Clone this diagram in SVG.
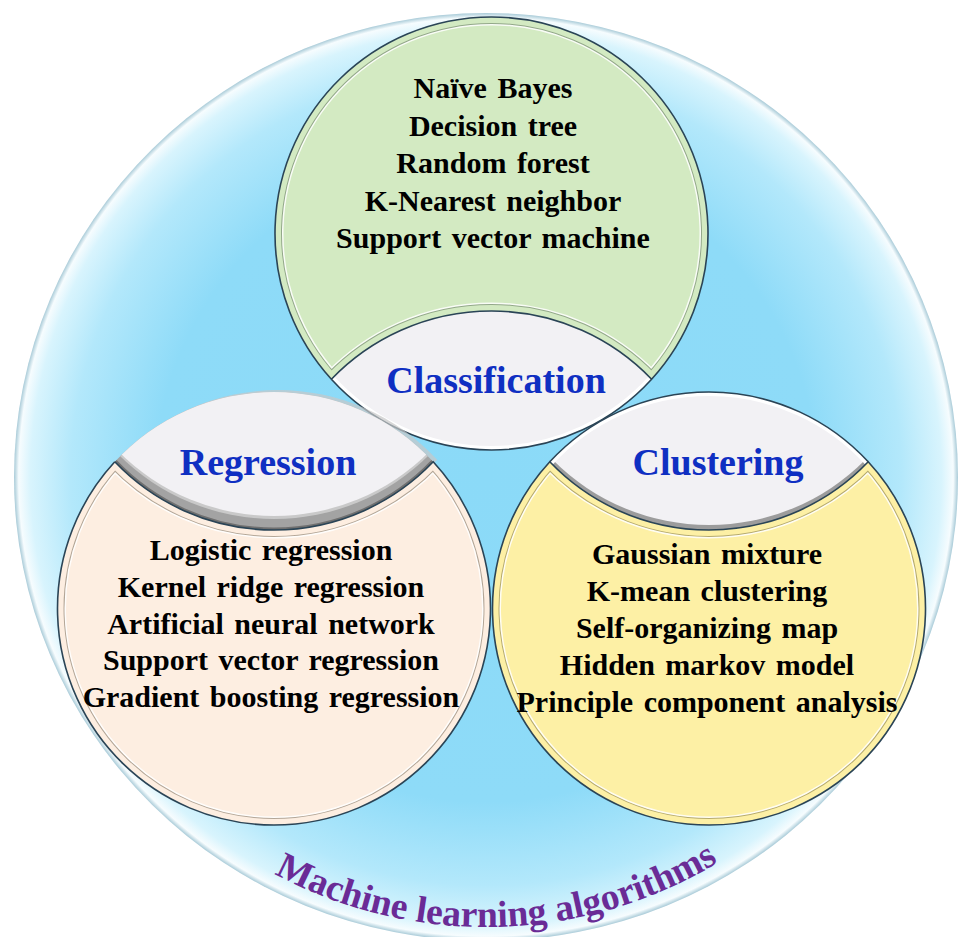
<svg xmlns="http://www.w3.org/2000/svg" width="961" height="937" viewBox="0 0 961 937">
  <style>
    .item { font-family: "Liberation Serif", "Times New Roman", serif; font-weight: bold; font-size: 30px; fill: #000000; text-anchor: middle; word-spacing: 3px; }
    .label { font-family: "Liberation Serif", "Times New Roman", serif; font-weight: bold; font-size: 38px; fill: #0f2fc2; text-anchor: middle; }
    .title { font-family: "Liberation Serif", "Times New Roman", serif; font-weight: bold; font-size: 37.5px; fill: #6a2b96; }
    .edge { fill: none; stroke: #2a4456; stroke-width: 1.6; }
    .lens { fill: #f2f1f4; }
  </style>
  <defs>
    <radialGradient id="bgGrad" cx="0.5" cy="0.5" r="0.5">
      <stop offset="0" stop-color="#8bdaf8"/>
      <stop offset="0.70" stop-color="#8edbf8"/>
      <stop offset="0.88" stop-color="#b3e8fb"/>
      <stop offset="0.965" stop-color="#d8f4fd"/>
      <stop offset="0.99" stop-color="#f6fcfe"/>
      <stop offset="1" stop-color="#a9cbd8"/>
    </radialGradient>
    <!-- Classification (green) -->
    <path id="shpCls" d="M 331.4 379.2 A 216.5 216.5 0 1 1 651.6 379.2 A 222 222 0 0 0 331.4 379.2 Z"/>
    <path id="lensCls" d="M 331.4 379.2 A 222 222 0 0 1 651.6 379.2 A 216.5 216.5 0 0 1 331.4 379.2 Z"/>
    <clipPath id="clipCls"><use href="#shpCls"/></clipPath>
    <clipPath id="clipLensCls"><use href="#lensCls"/></clipPath>
    <!-- Regression (peach) -->
    <path id="shpReg" d="M 114.8 461.8 A 220 220 0 0 0 433.2 461.8 A 216.5 216.5 0 1 1 114.8 461.8 Z"/>
    <path id="lensReg" d="M 114.8 461.8 A 216.5 216.5 0 0 1 433.2 461.8 A 220 220 0 0 1 114.8 461.8 Z"/>
    <clipPath id="clipReg"><use href="#shpReg"/></clipPath>
    <clipPath id="clipLensReg"><use href="#lensReg"/></clipPath>
    <clipPath id="clipRegTop"><circle cx="274" cy="299" r="220"/></clipPath>
    <!-- Clustering (yellow) -->
    <path id="shpClu" d="M 549.8 461.8 A 220 220 0 0 0 868.2 461.8 A 216.5 216.5 0 1 1 549.8 461.8 Z"/>
    <path id="lensClu" d="M 549.8 461.8 A 216.5 216.5 0 0 1 868.2 461.8 A 220 220 0 0 1 549.8 461.8 Z"/>
    <clipPath id="clipClu"><use href="#shpClu"/></clipPath>
    <clipPath id="clipLensClu"><use href="#lensClu"/></clipPath>
    <clipPath id="clipCluTop"><circle cx="709" cy="305" r="220"/></clipPath>
    <path id="titleArc" d="M 209.6 831.8 A 449 449 0 0 0 780.6 816.9"/>
  </defs>

  <g id="background">
    <ellipse cx="486" cy="477" rx="472" ry="464" fill="url(#bgGrad)"/>
  </g>

  <g id="connectors"/>

  <g id="node-classification">
    <use href="#shpCls" fill="#d3eac2"/>
    <g clip-path="url(#clipCls)" stroke-linejoin="miter" stroke-miterlimit="12">
      <use href="#shpCls" fill="none" stroke="#ffffff" stroke-opacity="0.85" stroke-width="17"/>
      <use href="#shpCls" fill="none" stroke="#93a88a" stroke-width="14"/>
      <use href="#shpCls" fill="none" stroke="#d3eac2" stroke-width="12"/>
    </g>
    <use href="#lensCls" class="lens"/>
    <path d="M 651.6 379.2 A 216.5 216.5 0 0 1 331.4 379.2" fill="none" stroke="#ffffff" stroke-width="8" clip-path="url(#clipLensCls)"/>
    <use href="#shpCls" class="edge"/>
    <path d="M 651.6 379.2 A 216.5 216.5 0 0 1 331.4 379.2" class="edge"/>
    <text class="item" x="493" y="98">Naïve Bayes</text>
    <text class="item" x="493" y="135.5">Decision tree</text>
    <text class="item" x="493" y="173">Random forest</text>
    <text class="item" x="493" y="210.5">K-Nearest neighbor</text>
    <text class="item" x="493" y="248">Support vector machine</text>
    <text class="label" x="496" y="393">Classification</text>
  </g>

  <g id="node-regression">
    <use href="#lensReg" fill="#c8c8c8" fill-opacity="0.7" transform="translate(4,-2)"/>
    <use href="#shpReg" fill="#fdeee1"/>
    <g clip-path="url(#clipReg)" stroke-linejoin="miter" stroke-miterlimit="12">
      <use href="#shpReg" fill="none" stroke="#ffffff" stroke-opacity="0.85" stroke-width="17"/>
      <use href="#shpReg" fill="none" stroke="#b3a697" stroke-width="14"/>
      <use href="#shpReg" fill="none" stroke="#fdeee1" stroke-width="12"/>
    </g>
    <use href="#lensReg" fill="#a3a3a3"/>
    <path d="M 433.2 461.8 A 220 220 0 0 1 114.8 461.8" fill="none" stroke="#6f6f6f" stroke-width="5" clip-path="url(#clipLensReg)"/>
    <g clip-path="url(#clipRegTop)">
      <use href="#lensReg" fill="#c9c9c9"/>
    </g>
    <g clip-path="url(#clipLensReg)">
      <circle cx="274" cy="296" r="220" class="lens"/>
    </g>
    <path d="M 114.8 461.8 A 220 220 0 0 0 433.2 461.8 A 216.5 216.5 0 1 1 114.8 461.8" class="edge"/>
    <text class="item" x="271" y="560">Logistic regression</text>
    <text class="item" x="271" y="597">Kernel ridge regression</text>
    <text class="item" x="271" y="633.5">Artificial neural network</text>
    <text class="item" x="271" y="670">Support vector regression</text>
    <text class="item" x="271" y="707">Gradient boosting regression</text>
    <text class="label" x="268" y="475">Regression</text>
  </g>

  <g id="node-clustering">
    <use href="#shpClu" fill="#fdf0a5"/>
    <g clip-path="url(#clipClu)" stroke-linejoin="miter" stroke-miterlimit="12">
      <use href="#shpClu" fill="none" stroke="#ffffff" stroke-opacity="0.85" stroke-width="17"/>
      <use href="#shpClu" fill="none" stroke="#b5aa6e" stroke-width="14"/>
      <use href="#shpClu" fill="none" stroke="#fdf0a5" stroke-width="12"/>
    </g>
    <use href="#lensClu" fill="#9c9c9c"/>
    <g clip-path="url(#clipCluTop)">
      <use href="#lensClu" class="lens"/>
    </g>
    <path d="M 549.8 461.8 A 216.5 216.5 0 0 1 868.2 461.8" fill="none" stroke="#ffffff" stroke-width="8" clip-path="url(#clipLensClu)"/>
    <use href="#shpClu" class="edge"/>
    <path d="M 549.8 461.8 A 216.5 216.5 0 0 1 868.2 461.8" class="edge"/>
    <text class="item" x="707" y="564">Gaussian mixture</text>
    <text class="item" x="707" y="601">K-mean clustering</text>
    <text class="item" x="707" y="638">Self-organizing map</text>
    <text class="item" x="707" y="675">Hidden markov model</text>
    <text class="item" x="707" y="712">Principle component analysis</text>
    <text class="label" x="718" y="475">Clustering</text>
  </g>

  <g id="title">
    <text class="title"><textPath href="#titleArc" startOffset="50%" text-anchor="middle">Machine learning algorithms</textPath></text>
  </g>
</svg>
